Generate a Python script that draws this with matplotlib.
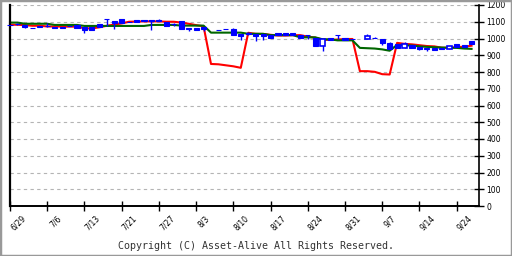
import numpy as np
import matplotlib
matplotlib.use('Agg')
import matplotlib.pyplot as plt
import matplotlib.transforms as mtransforms
from matplotlib.patches import Rectangle

# tick labels every 5 trading days
tick_labels = ['6/29', '7/6', '7/13', '7/21', '7/27', '8/3', '8/10',
               '8/17', '8/24', '8/31', '9/7', '9/14', '9/24']

# daily candles (nan = no trade)
nan = np.nan
opens = [1083, 1085, 1081, 1065, 1077, 1075, 1070, 1070, 1072, 1083,
         1067, 1067, 1085, 1115, 1103, 1115, 1100, 1109, 1112, 1110,
         1112, 1097, 1085, 1107, 1064, 1063, 1070, nan, 1053, 1055,
         1058, 1027, 1035, 1027, 1025, 1019, 1035, 1035, 1035, 1019,
         1018, 1001, 955, 1005, 1019, 1003, 997, nan, 999, 1002,
         1000, 976, 968, 946, 964, 951, 945, 942, 945, 935,
         968, 964, 988]
highs = [1083, 1095, 1081, 1065, 1077, 1091, 1070, 1070, 1072, 1083,
         1067, 1067, 1085, 1115, 1103, 1115, 1100, 1113, 1112, 1110,
         1115, 1097, 1093, 1107, 1064, 1063, 1071, nan, 1053, 1055,
         1060, 1027, 1040, 1027, 1025, 1019, 1035, 1035, 1035, 1019,
         1020, 1001, 995, 1005, 1019, 1003, 997, nan, 1025, 1010,
         1000, 980, 968, 978, 964, 951, 945, 942, 945, 957,
         968, 964, 988]
lows = [1083, 1083, 1061, 1065, 1069, 1069, 1062, 1062, 1072, 1063,
        1033, 1051, 1071, 1075, 1057, 1095, 1100, 1097, 1104, 1051,
        1107, 1075, 1075, 1057, 1045, 1051, 1047, nan, 1053, 1055,
        1020, 991, 1020, 985, 991, 1003, 1023, 1023, 1019, 1003,
        995, 955, 925, 990, 995, 991, 997, nan, 999, 1002,
        962, 940, 946, 946, 946, 930, 926, 932, 935, 935,
        951, 952, 968]
closes = [1083, 1085, 1071, 1065, 1069, 1075, 1062, 1062, 1072, 1063,
          1051, 1051, 1071, 1115, 1091, 1095, 1100, 1097, 1104, 1104,
          1107, 1075, 1085, 1057, 1055, 1051, 1055, nan, 1053, 1055,
          1020, 1015, 1025, 1017, 1017, 1003, 1023, 1023, 1019, 1003,
          1018, 955, 995, 990, 1019, 991, 997, nan, 1015, 1002,
          972, 940, 946, 968, 946, 940, 935, 932, 935, 957,
          951, 952, 968]

# short and long moving averages as drawn
ma_short = [1082, 1082, 1080, 1076, 1076, 1072, 1072, 1071, 1071, 1071,
            1061, 1060, 1067, 1076, 1083, 1090, 1100, 1101, 1102, 1102,
            1102, 1100, 1100, 1095, 1088, 1080, 1073, 848, 846, 840,
            834, 825, 1034, 1028, 1027, 1022, 1018, 1018, 1020, 1020,
            1011, 1005, 993, 992, 994, 997, 997, 805, 805, 801,
            787, 785, 974, 968, 965, 960, 955, 953, 945, 945,
            948, 951, 957]
ma_long = [1095, 1095, 1088, 1088, 1088, 1088, 1081, 1081, 1081, 1081,
           1075, 1075, 1075, 1075, 1075, 1075, 1075, 1075, 1075, 1081,
           1081, 1081, 1081, 1077, 1077, 1077, 1077, 1035, 1035, 1035,
           1035, 1035, 1028, 1028, 1028, 1020, 1020, 1020, 1020, 1007,
           1007, 1007, 995, 995, 989, 989, 989, 944, 942, 940,
           935, 927, 962, 959, 958, 953, 950, 948, 946, 945,
           944, 940, 938]

x = np.arange(len(closes))
o = np.array(opens, float)
h = np.array(highs, float)
l = np.array(lows, float)
c = np.array(closes, float)

fig = plt.figure(figsize=(5.12, 2.56), dpi=100)
ax = fig.add_axes([10/512, 50/256, 469/512, 201/256])

ax.set_xlim(0, 63)
ax.set_ylim(0, 1200)

# grid
ax.set_yticks(np.arange(0, 1201, 100))
for yv in np.arange(100, 1201, 100):
    ax.axhline(yv, color='#b4b4b4', lw=0.8, ls=(0, (3, 3)), zorder=1)

ax.plot(x, ma_short, color='#ff0000', lw=1.5, zorder=2, clip_on=False)
ax.plot(x, ma_long, color='#006600', lw=1.5, zorder=2.5, clip_on=False)

w = 0.68
ok = ~np.isnan(c)
ax.vlines(x[ok], l[ok], h[ok], color='#0000ff', lw=1, zorder=3)
up = ok & (c > o)
down = ok & ~(c > o)
ax.bar(x[down], np.maximum(o[down] - c[down], 0.01), bottom=c[down], width=w,
       color='#0000ff', edgecolor='#0000ff', lw=0.8, zorder=4, clip_on=False)
ax.bar(x[up], c[up] - o[up], bottom=o[up], width=w,
       color='white', edgecolor='#0000ff', lw=1.2, zorder=4)

# axes styling
for s in ['top']:
    ax.spines[s].set_visible(False)
ax.spines['left'].set_linewidth(1.6)
ax.spines['bottom'].set_linewidth(1.4)
ax.spines['right'].set_linewidth(1.2)
ax.yaxis.tick_right()
ax.tick_params(axis='y', direction='inout', length=7, width=1, pad=2,
               labelsize=5.5)
ax.tick_params(axis='x', direction='inout', length=7, width=1, pad=2,
               labelsize=5.5)
ax.set_xticks(np.arange(0, 61, 5))
ax.set_xticklabels(tick_labels, rotation=45, ha='center', va='top')
offset = mtransforms.ScaledTranslation(8/100, 0, fig.dpi_scale_trans)
for lab in ax.get_xticklabels():
    lab.set_transform(lab.get_transform() + offset)

fig.text(0.5, 10/256, 'Copyright (C) Asset-Alive All Rights Reserved.',
         ha='center', va='center', family='DejaVu Sans Mono', fontsize=7.2,
         color='#333333')

fig.patches.append(Rectangle((0, 0), 1, 1, transform=fig.transFigure,
                             fill=False, edgecolor='#999999', lw=2.5))

fig.savefig('out.png', dpi=100)
